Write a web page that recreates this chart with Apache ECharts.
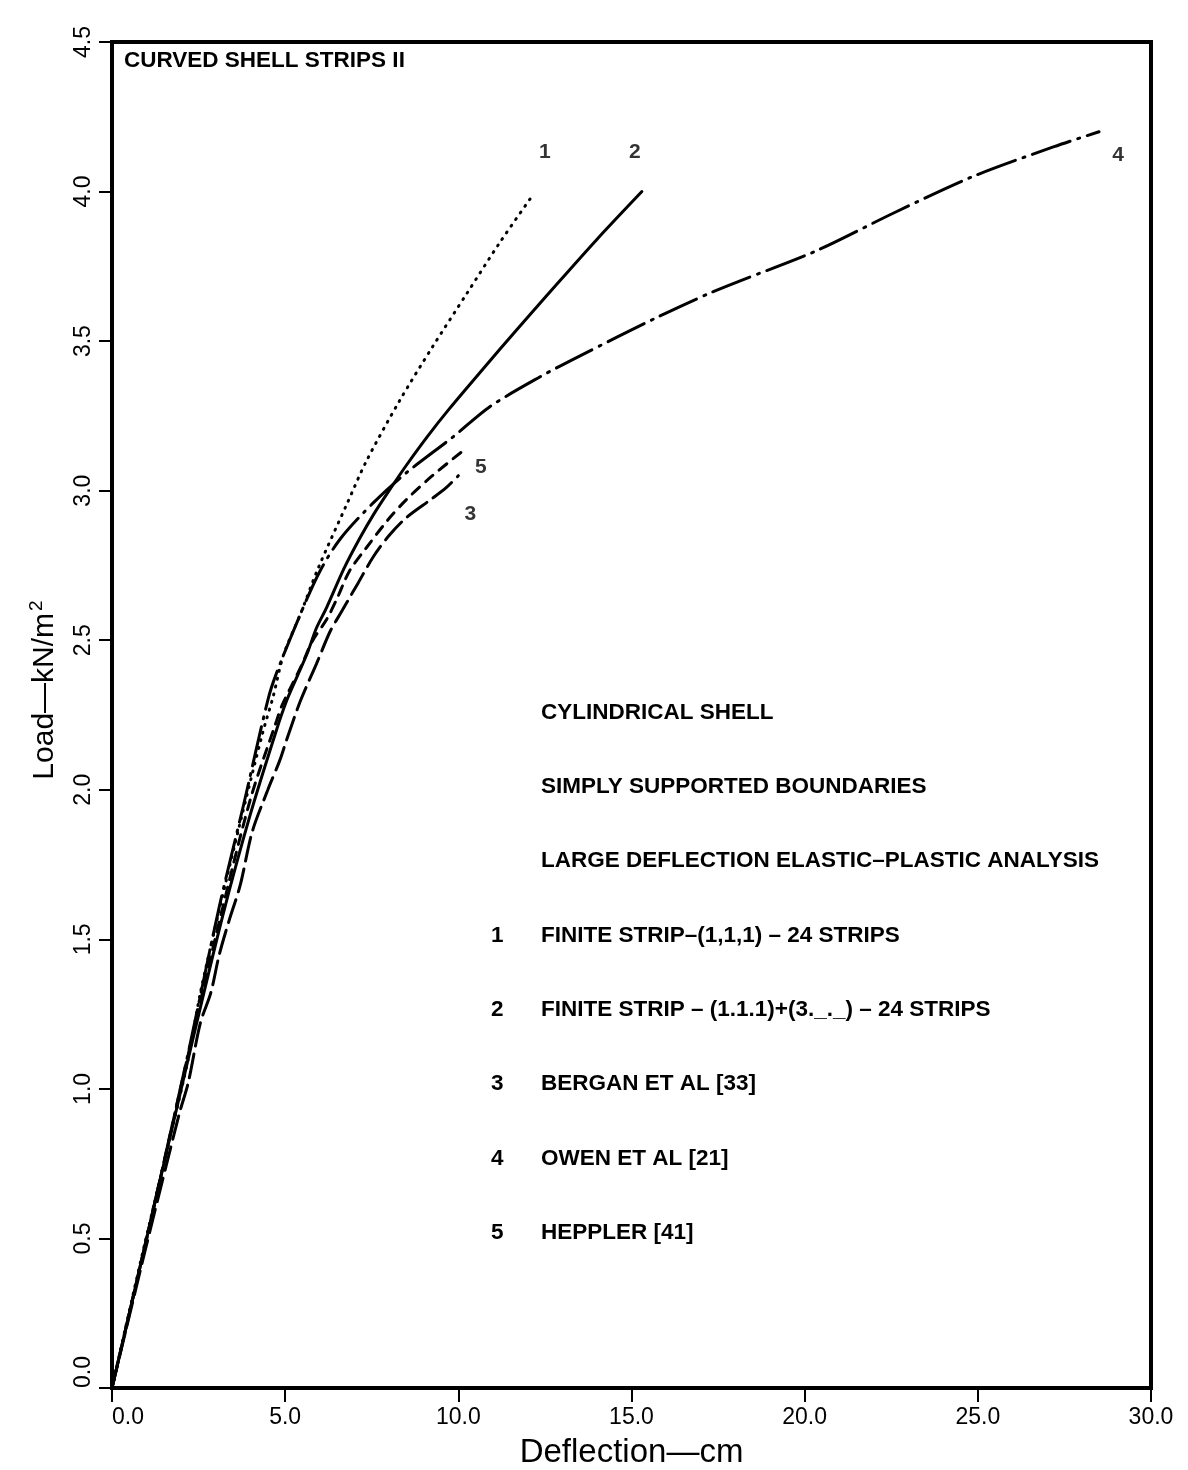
<!DOCTYPE html>
<html>
<head>
<meta charset="utf-8">
<script src="https://cdn.jsdelivr.net/npm/echarts@6/dist/echarts.min.js"></script>
<style>
  html, body { margin: 0; padding: 0; background: #fff; }
  #chart { width: 1188px; height: 1470px; }
</style>
</head>
<body>
<div id="chart"></div>
<script>
// Load–deflection curves for a curved shell strip (cylindrical shell, simply supported)
// Deflection in cm, load in kN/m^2

// 1  Finite strip (1,1,1), 24 strips
const fs1Deflection = [0, 0.9, 1.6, 2.2, 2.55, 3.1, 3.7, 4.35, 4.65, 4.95, 5.45, 5.95, 6.8, 7.35, 8.3, 9.25, 10.25, 11.2, 12.1];
const fs1Load       = [0, 0.46, 0.8, 1.1, 1.32, 1.6, 1.89, 2.19, 2.31, 2.45, 2.59, 2.74, 2.96, 3.1, 3.3, 3.48, 3.66, 3.83, 3.98];

// 2  Finite strip (1,1,1)+(3,_,_), 24 strips
const fs2Deflection = [0, 1.0, 2.2, 3.2, 4.0, 4.75, 5.05, 5.35, 5.65, 5.9, 6.2, 6.7, 7.15, 7.55, 8.0, 8.5, 9.1, 9.75, 10.7, 11.7, 12.65, 14.0, 15.3];
const fs2Load       = [0, 0.5, 1.1, 1.58, 1.92, 2.2, 2.3, 2.38, 2.46, 2.54, 2.61, 2.74, 2.84, 2.92, 3.0, 3.085, 3.18, 3.275, 3.405, 3.54, 3.665, 3.84, 4.0];

// 3  Bergan et al [33]
const berganDeflection = [0, 1.0, 1.95, 2.2, 2.55, 2.85, 3.1, 3.4, 3.7, 4.05, 4.5, 4.85, 5.05, 5.45, 5.9, 6.3, 6.6, 6.8, 7.1, 7.55, 8.0, 8.5, 9.2, 9.65, 10.0];
const berganLoad       = [0, 0.48, 0.92, 1.02, 1.22, 1.32, 1.45, 1.57, 1.68, 1.86, 2.0, 2.1, 2.17, 2.3, 2.42, 2.53, 2.59, 2.63, 2.69, 2.78, 2.85, 2.91, 2.97, 3.01, 3.05];

// 4  Owen et al [21]
const owenDeflection = [0, 1.0, 2.2, 3.1, 3.8, 4.5, 4.75, 5.45, 6.0, 6.6, 7.55, 8.5, 9.85, 10.9, 12.35, 13.5, 15.75, 17.25, 18.1, 20.3, 22.6, 24.85, 27.2, 28.5];
const owenLoad       = [0, 0.5, 1.12, 1.61, 1.95, 2.3, 2.39, 2.59, 2.73, 2.84, 2.96, 3.06, 3.18, 3.28, 3.38, 3.45, 3.58, 3.66, 3.7, 3.8, 3.93, 4.05, 4.15, 4.2];

// 5  Heppler [41]
const hepplerDeflection = [0, 1.1, 2.25, 3.1, 4.0, 4.75, 4.9, 5.15, 5.45, 5.8, 6.2, 6.5, 6.85, 7.35, 7.95, 8.5, 9.25, 10.1];
const hepplerLoad       = [0, 0.55, 1.14, 1.56, 1.97, 2.23, 2.28, 2.34, 2.41, 2.5, 2.57, 2.64, 2.73, 2.81, 2.9, 2.97, 3.05, 3.13];

// Curve numbers placed next to the ends of the curves
const curveTags = ['1', '2', '3', '4', '5'];
const curveTagX = [12.5, 15.1, 10.35, 29.05, 10.65];
const curveTagY = [4.13, 4.13, 2.92, 4.12, 3.08];

// Axis ranges and tick spacing
const xMin = 0, xMax = 30, xStep = 5;
const yMin = 0, yMax = 4.5, yStep = 0.5;

// Descriptive text block
const chartTitle = 'CURVED SHELL STRIPS II';
const headerLines = [
  'CYLINDRICAL SHELL',
  'SIMPLY SUPPORTED BOUNDARIES',
  'LARGE DEFLECTION ELASTIC\u2013PLASTIC ANALYSIS'
];
const keyNumbers = ['1', '2', '3', '4', '5'];
const keyLabels = [
  'FINITE STRIP\u2013(1,1,1) \u2013 24 STRIPS',
  'FINITE STRIP \u2013 (1.1.1)+(3._._) \u2013 24 STRIPS',
  'BERGAN ET AL [33]',
  'OWEN ET AL [21]',
  'HEPPLER [41]'
];

const zip = (xs, ys) => xs.map((x, i) => [x, ys[i]]);

const FONT = '"Liberation Sans", Arial, sans-serif';
const TEXT_FONT = 'bold 22.5px ' + FONT;
const INK = '#000';

function curve(name, xs, ys, dash) {
  return {
    name: name,
    type: 'line',
    data: zip(xs, ys),
    showSymbol: false,
    symbol: 'none',
    smooth: 0.3,
    silent: true,
    lineStyle: { color: INK, width: 3, type: dash, cap: 'round' },
    z: 3
  };
}

// text block layout
const graphics = [];
graphics.push({
  type: 'text', left: 124, top: 49,
  style: { text: chartTitle, font: TEXT_FONT, fill: INK }
});
const blockTop = 701, blockStep = 74.3, textX = 541, numX = 491;
headerLines.forEach((t, i) => {
  graphics.push({
    type: 'text', left: textX, top: blockTop + i * blockStep,
    style: { text: t, font: TEXT_FONT, fill: INK }
  });
});
keyLabels.forEach((t, i) => {
  const top = blockTop + (i + 3) * blockStep;
  graphics.push({
    type: 'text', left: numX, top: top,
    style: { text: keyNumbers[i], font: TEXT_FONT, fill: INK }
  });
  graphics.push({
    type: 'text', left: textX, top: top,
    style: { text: t, font: TEXT_FONT, fill: INK }
  });
});

const chart = echarts.init(document.getElementById('chart'), null, { renderer: 'canvas' });

chart.setOption({
  animation: false,
  backgroundColor: '#fff',
  grid: {
    left: 112, right: 37, top: 42, bottom: 82,
    containLabel: false,
    outerBoundsMode: 'none',
    show: true, borderColor: INK, borderWidth: 4, backgroundColor: 'transparent'
  },
  xAxis: {
    type: 'value',
    min: xMin, max: xMax, interval: xStep,
    name: 'Deflection\u2014cm',
    nameLocation: 'middle',
    nameGap: 48,
    nameTextStyle: { fontFamily: FONT, fontSize: 33, color: INK },
    axisLine: { show: true, onZero: false, lineStyle: { color: INK, width: 4 } },
    axisTick: { show: true, inside: false, length: 14, lineStyle: { color: INK, width: 2 } },
    axisLabel: {
      margin: 18, color: INK, fontFamily: FONT, fontSize: 23,
      alignMinLabel: 'left',
      formatter: v => v.toFixed(1)
    },
    splitLine: { show: false }
  },
  yAxis: {
    type: 'value',
    min: yMin, max: yMax, interval: yStep,
    name: 'Load\u2014kN/m{sup|2}',
    nameLocation: 'middle',
    nameRotate: 90,
    nameGap: 50,
    nameTextStyle: {
      fontFamily: FONT, fontSize: 30, color: INK,
      padding: [0, 0, 0, 50],
      rich: { sup: { fontFamily: FONT, fontSize: 19, color: INK, verticalAlign: 'top', padding: [0, 0, 16, 2] } }
    },
    axisLine: { show: true, onZero: false, lineStyle: { color: INK, width: 4 } },
    axisTick: { show: true, inside: false, length: 13, lineStyle: { color: INK, width: 2 } },
    axisLabel: {
      rotate: 90, margin: 17, color: INK, fontFamily: FONT, fontSize: 23,
      alignMinLabel: 'left',
      formatter: v => v.toFixed(1)
    },
    splitLine: { show: false }
  },
  series: [
    curve('1', fs1Deflection, fs1Load, [1, 7]),
    curve('2', fs2Deflection, fs2Load, 'solid'),
    curve('3', berganDeflection, berganLoad, [24, 8]),
    curve('4', owenDeflection, owenLoad, [40, 8, 2, 8]),
    curve('5', hepplerDeflection, hepplerLoad, [10, 8]),
    {
      type: 'scatter',
      silent: true,
      symbolSize: 0,
      data: curveTags.map((t, i) => ({ value: [curveTagX[i], curveTagY[i]], name: t })),
      label: {
        show: true, position: 'inside', formatter: p => p.name,
        fontFamily: FONT, fontSize: 21, fontWeight: 'bold', color: INK
      },
      z: 4
    }
  ],
  graphic: graphics
});
</script>
</body>
</html>
